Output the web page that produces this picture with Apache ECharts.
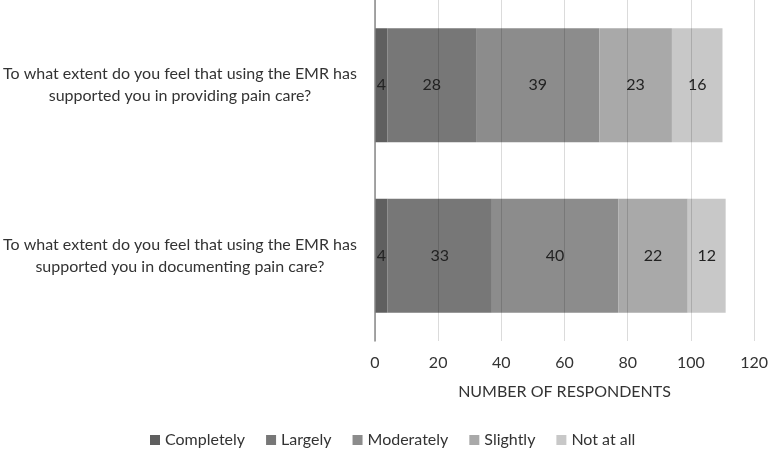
<!DOCTYPE html>
<html><head><meta charset="utf-8">
<script src="https://cdn.jsdelivr.net/npm/echarts@6/dist/echarts.min.js"></script>
<style>html,body{margin:0;padding:0;background:#fff}#c{width:771px;height:449px}</style>
</head><body><div id="c"></div>
<script>
const categories = [
  "To what extent do you feel that using the EMR has\nsupported you in providing pain care?",
  "To what extent do you feel that using the EMR has\nsupported you in documenting pain care?"
];
const seriesNames = ["Completely", "Largely", "Moderately", "Slightly", "Not at all"];
const completely = [4, 4];
const largely = [28, 33];
const moderately = [39, 40];
const slightly = [23, 22];
const notAtAll = [16, 12];
const xTicks = [0, 20, 40, 60, 80, 100, 120];
const colors = ["#5f5f5f", "#777777", "#8c8c8c", "#a9a9a9", "#c8c8c8"];

const values = [completely, largely, moderately, slightly, notAtAll];
const font = "Lato, 'Open Sans', sans-serif";
const chart = echarts.init(document.getElementById('c'));
chart.setOption({
  animation: false,
  color: colors,
  grid: {left: 373, right: 13, top: 0, bottom: 108},
  legend: {
    data: seriesNames, left: 150, top: 432, padding: 0,
    icon: 'rect', itemWidth: 10, itemHeight: 10, itemGap: 21,
    textStyle: {fontFamily: font, fontSize: 16, color: '#333'}
  },
  xAxis: {
    type: 'value', min: xTicks[0], max: xTicks[xTicks.length - 1], interval: 20, z: 5,
    axisLine: {show: false}, axisTick: {show: false},
    splitLine: {show: true, lineStyle: {color: 'rgba(0,0,0,0.14)', width: 1}},
    axisLabel: {fontFamily: font, fontSize: 16, color: '#333', margin: 14},
    name: 'NUMBER OF RESPONDENTS', nameLocation: 'middle', nameGap: 43,
    nameTextStyle: {fontFamily: font, fontSize: 16, color: '#333'}
  },
  yAxis: {
    type: 'category', data: categories, inverse: true, z: 5,
    axisLine: {show: true, lineStyle: {color: '#8a8a8a', width: 1.5}},
    axisTick: {show: false},
    axisLabel: {fontFamily: font, fontSize: 16, color: '#333', align: 'center', margin: 195, lineHeight: 22}
  },
  series: seriesNames.map((n, i) => ({
    name: n, type: 'bar', stack: 'total', data: values[i], barCategoryGap: '33%',
    itemStyle: {color: colors[i]},
    label: {show: true, position: 'inside', fontFamily: font, fontSize: 16, color: '#222'}
  }))
});
</script></body></html>
